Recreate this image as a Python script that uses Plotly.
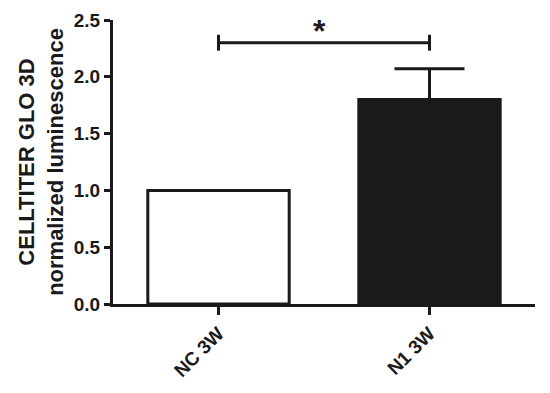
import plotly.graph_objs as go

groups = ["NC 3W", "N1 3W"]
means = [1.0, 1.80]
errs_up = [0.0, 0.27]
fills = ["white", "#1a1a1a"]
ytick_vals = [0, 0.5, 1.0, 1.5, 2.0, 2.5]

# significance bracket between the two groups
sig_pair = [0, 1]
sig_y = 2.30
sig_label = "*"

fig = go.Figure()
fig.add_trace(go.Bar(
    x=groups, y=means, width=0.67,
    marker=dict(color=fills, line=dict(color="#1a1a1a", width=3)),
    error_y=dict(type="data", array=errs_up, arrayminus=[0, 0], symmetric=False,
                 color="#1a1a1a", thickness=3, width=35, visible=True),
    showlegend=False))

fig.add_shape(type="line", xref="x", yref="y", x0=sig_pair[0], x1=sig_pair[1],
              y0=sig_y, y1=sig_y, line=dict(color="#1a1a1a", width=3))
for xi in sig_pair:
    fig.add_shape(type="line", xref="x", yref="y", x0=xi, x1=xi,
                  y0=sig_y - 0.07, y1=sig_y + 0.07, line=dict(color="#1a1a1a", width=3))
fig.add_annotation(x=0.48, y=sig_y, xref="x", yref="y", text="<b>" + sig_label + "</b>",
                   showarrow=False, yanchor="bottom", yshift=-8,
                   font=dict(family="Liberation Sans", size=32, color="#1a1a1a"))

# the page body has an 8px margin, so margins are shifted to keep the plot area in place
fig.update_layout(
    width=550, height=393,
    margin=dict(l=105, r=23, t=12, b=97),
    paper_bgcolor="white", plot_bgcolor="white",
    font=dict(family="Liberation Sans", color="#1a1a1a"),
    xaxis=dict(
        range=[-0.5, 1.5], automargin=False,
        showline=True, linecolor="#1a1a1a", linewidth=3,
        ticks="outside", ticklen=8, tickwidth=2.5, tickcolor="#1a1a1a",
        tickangle=-45,
        tickvals=groups, ticktext=["<b>" + g + "</b>" for g in groups],
        tickfont=dict(size=19, color="#1a1a1a"),
        showgrid=False, zeroline=False),
    yaxis=dict(
        range=[0, 2.5], automargin=False,
        tickvals=ytick_vals,
        ticktext=["<b>%.1f</b>" % v for v in ytick_vals],
        showline=True, linecolor="#1a1a1a", linewidth=3,
        ticks="outside", ticklen=6, tickwidth=2.5, tickcolor="#1a1a1a",
        tickfont=dict(size=19, color="#1a1a1a"),
        showgrid=False, zeroline=False,
        title=dict(text="<b>CELLTITER GLO 3D</b><br><b>normalized luminescence</b>",
                   font=dict(size=22, color="#1a1a1a"), standoff=5)),
)

fig.write_html("out.html")
